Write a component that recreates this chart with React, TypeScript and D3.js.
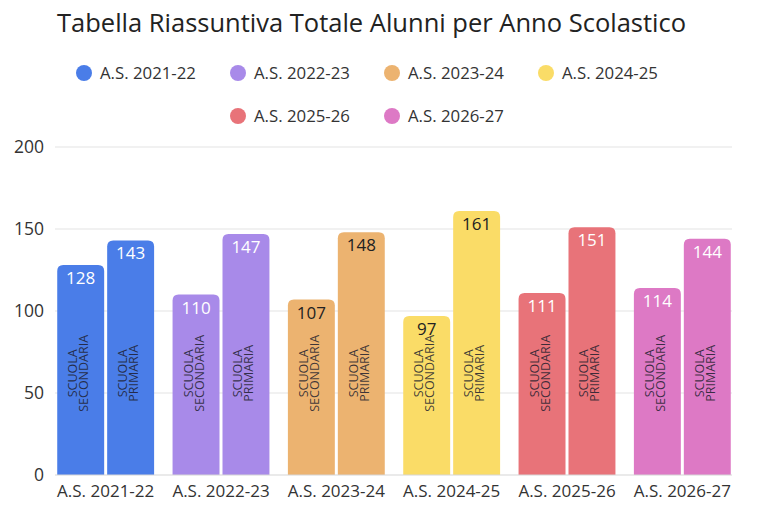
import React from "react";
import * as d3 from "d3";

const years = ["A.S. 2021-22", "A.S. 2022-23", "A.S. 2023-24", "A.S. 2024-25", "A.S. 2025-26", "A.S. 2026-27"];
const secondaria = [128, 110, 107, 97, 111, 114];
const primaria = [143, 147, 148, 161, 151, 144];
const yearColors = ["#4a7de8", "#a88ae9", "#ecb370", "#fadc67", "#e87379", "#dd79c5"];
const darkValueText = [false, false, true, true, false, false];
const schools = ["SECONDARIA", "PRIMARIA"];
const yTicks = [0, 50, 100, 150, 200];

const width = 768;
const height = 512;
const font = "'Open Sans', 'Noto Sans', sans-serif";

const roundedTop = (x: number, y: number, w: number, h: number, r: number) => {
  const rr = Math.min(r, h, w / 2);
  return `M${x},${y + h}V${y + rr}Q${x},${y} ${x + rr},${y}H${x + w - rr}Q${x + w},${y} ${x + w},${y + rr}V${y + h}Z`;
};

const App: React.FC = () => {
  const x0 = d3.scaleBand<string>().domain(years).range([48, 740]).paddingInner(0.16).paddingOuter(0.08);
  const x1 = d3.scaleBand<string>().domain(schools).range([0, x0.bandwidth()]).paddingInner(0.06);
  const y = d3.scaleLinear().domain([0, 200]).range([475, 147]);

  const legendRows = [years.slice(0, 4), years.slice(4)];

  return (
    <svg width={width} height={height} style={{ position: "absolute", left: 0, top: 0, background: "#fff" }} fontFamily={font}>
      <text x={57} y={32} fontSize={25.5} fill="#222">
        Tabella Riassuntiva Totale Alunni per Anno Scolastico
      </text>

      {legendRows.map((row, ri) =>
        row.map((name, i) => {
          const cx = 392 - row.length * 77 + i * 154;
          const cy = 73 + ri * 43;
          const idx = years.indexOf(name);
          return (
            <g key={name}>
              <circle cx={cx} cy={cy} r={8} fill={yearColors[idx]} />
              <text x={cx + 16} y={cy} dy="0.35em" fontSize={16.8} fill="#333">
                {name}
              </text>
            </g>
          );
        })
      )}

      {yTicks.map((t) => (
        <g key={t}>
          {t > 0 && <line x1={55} x2={732} y1={y(t)} y2={y(t)} stroke="#e3e3e3" strokeWidth={1.2} />}
          <text x={44} y={y(t)} dy="0.35em" textAnchor="end" fontSize={17.5} fill="#333">
            {t}
          </text>
        </g>
      ))}

      {years.map((yr, gi) => {
        const gx = x0(yr) as number;
        const vals = [secondaria[gi], primaria[gi]];
        return (
          <g key={yr}>
            {schools.map((s, si) => {
              const bx = gx + (x1(s) as number);
              const bw = x1.bandwidth();
              const top = y(vals[si]);
              const cx = bx + bw / 2;
              return (
                <g key={s}>
                  <path d={roundedTop(bx, top, bw, y(0) - top, 6)} fill={yearColors[gi]} />
                  <text x={cx} y={top + 19} textAnchor="middle" fontSize={17} fill={darkValueText[gi] ? "#222" : "#fff"}>
                    {vals[si]}
                  </text>
                  <text
                    transform={`translate(${cx},${y(62)}) rotate(-90)`}
                    textAnchor="middle"
                    fontSize={12.5}
                    fill="#1e1e2e"
                    fillOpacity={0.85}
                  >
                    <tspan x={0} y={-3.5}>SCUOLA</tspan>
                    <tspan x={0} y={7.5}>{s}</tspan>
                  </text>
                </g>
              );
            })}
            <text x={gx + x0.bandwidth() / 2} y={497} textAnchor="middle" fontSize={17} fill="#333">
              {yr}
            </text>
          </g>
        );
      })}

      <line x1={55} x2={732} y1={y(0)} y2={y(0)} stroke="#d6d6d6" strokeWidth={1.2} />
    </svg>
  );
};

export default App;
